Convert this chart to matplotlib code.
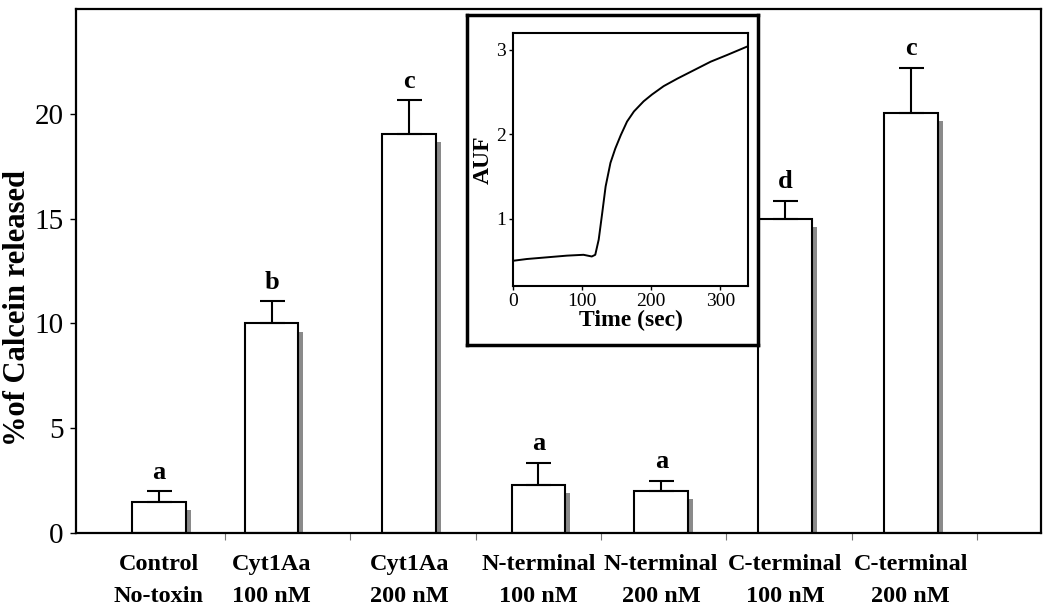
import matplotlib
matplotlib.use('Agg')
import matplotlib.pyplot as plt

plt.rcParams['font.family'] = ['Liberation Serif', 'DejaVu Serif']

# Main bar chart data
labels = ['Control\nNo-toxin', 'Cyt1Aa\n100 nM', 'Cyt1Aa\n200 nM',
          'N-terminal\n100 nM', 'N-terminal\n200 nM',
          'C-terminal\n100 nM', 'C-terminal\n200 nM']
positions = [0, 0.9, 2.0, 3.03, 4.01, 5.0, 6.0]
released = [1.5, 10.0, 19.05, 2.3, 2.0, 15.0, 20.05]
errors = [0.5, 1.05, 1.6, 1.05, 0.5, 0.85, 2.15]
letters = ['a', 'b', 'c', 'a', 'a', 'd', 'c']

# Inset kinetics trace
time_sec = [1, 20, 49, 78, 102, 114, 119, 124, 129, 134, 141, 148, 156,
            165, 175, 189, 201, 218, 238, 262, 286, 310, 339]
auf = [0.50, 0.52, 0.54, 0.56, 0.57, 0.55, 0.57, 0.75, 1.06, 1.38, 1.66,
       1.83, 1.99, 2.15, 2.27, 2.39, 2.47, 2.57, 2.66, 2.76, 2.86, 2.94, 3.04]

fig = plt.figure(figsize=(10.5, 6.12), dpi=100)
ax = fig.add_axes([76 / 1050, 1 - 533 / 612, 965 / 1050, 524 / 612])

width = 0.43
# grey drop shadow behind each bar
ax.bar([p + 0.04 for p in positions], [v - 0.2 for v in released], width=width,
       bottom=-0.2, color='#8a8a8a', edgecolor='none', zorder=1)
ax.bar(positions, released, width=width, color='white', edgecolor='black',
       linewidth=1.5, zorder=2)
ax.errorbar(positions, released, yerr=[[0] * len(errors), errors], fmt='none',
            ecolor='black', elinewidth=1.5, capsize=9, capthick=1.5, zorder=3)

for p, v, e, s in zip(positions, released, errors, letters):
    ax.text(p, v + e + 0.35, s, ha='center', va='bottom', fontsize=19,
            fontweight='bold')

ax.set_xlim(-0.66, 7.04)
ax.set_ylim(0, 25)
ax.set_yticks([0, 5, 10, 15, 20])
ax.tick_params(axis='y', labelsize=21, length=4, width=1, direction='out', pad=5)
ax.set_xticks(positions)
ax.set_xticklabels(labels, fontsize=17.5, fontweight='bold', linespacing=1.7)
ax.tick_params(axis='x', length=0, pad=15)
ax.set_xticks([i + 0.53 for i in range(7)], minor=True)
ax.tick_params(axis='x', which='minor', length=5, width=0.8, color='#777777')
for sp in ax.spines.values():
    sp.set_linewidth(1.6)
ax.set_ylabel('%of Calcein released', fontsize=22, fontweight='bold')
ax.yaxis.set_label_coords(-0.046, 0.43)

# Inset: outer frame
box = fig.add_axes([467 / 1050, 1 - 345 / 612, 291 / 1050, 330 / 612])
box.set_xticks([])
box.set_yticks([])
for sp in box.spines.values():
    sp.set_linewidth(2.5)
box.set_zorder(5)

ins = fig.add_axes([513 / 1050, 1 - 286 / 612, 235 / 1050, 253 / 612])
ins.set_zorder(6)
ins.plot(time_sec, auf, color='black', linewidth=1.4)
ins.set_xlim(0, 340)
ins.set_ylim(0.2, 3.2)
ins.set_xticks([0, 100, 200, 300])
ins.set_yticks([1, 2, 3])
ins.tick_params(labelsize=14, length=3, width=1, pad=2)
for sp in ins.spines.values():
    sp.set_linewidth(1.5)
ins.set_xlabel('Time (sec)', fontsize=17, fontweight='bold', labelpad=0)
ins.set_ylabel('AUF', fontsize=17, fontweight='bold', labelpad=2)

fig.savefig('out.png', dpi=100)
